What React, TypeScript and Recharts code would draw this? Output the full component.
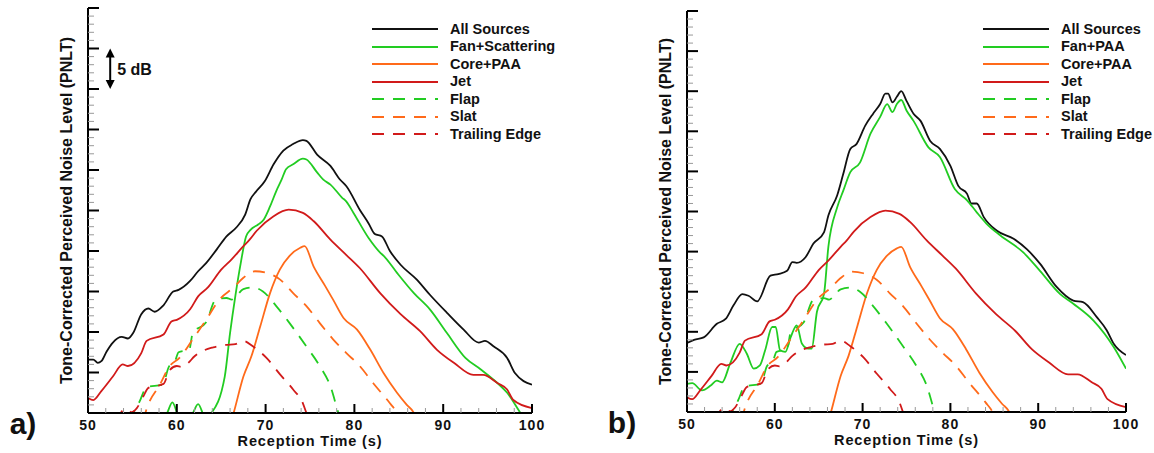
import React from "react";
import { LineChart, Line, XAxis, YAxis, Legend, ReferenceLine } from "recharts";

type Pt = [number, number];

// reception time (s), level above the axis floor (dB)
const allSourcesA: Pt[] = [
  [50, 6.6], [50.6, 6.6], [51.1, 6.2], [51.5, 6.4], [52.1, 7.6], [52.8, 8.7], [53.8, 9.4], [54.5, 9.2],
  [55.1, 9.9], [56, 12.2], [56.8, 12.9], [57.5, 12.5], [58.5, 13.3], [59.6, 15.0], [60.2, 15.2], [61.5, 16.3],
  [62.4, 17.5], [63.3, 18.5], [64.5, 20.2], [65.6, 21.8], [66.7, 22.9], [67.7, 24.5], [68.3, 26.4], [68.9, 27.3],
  [69.9, 28.6], [70.9, 30.7], [72, 32.4], [73.1, 33.2], [74.2, 33.7], [74.6, 33.6], [75.8, 31.9], [77.3, 30.5],
  [78.4, 28.8], [79.1, 28], [80.6, 25.1], [81.6, 23.4], [82.3, 22.1], [83.1, 21.8], [84, 20], [85.2, 18.3],
  [87, 16.5], [88.5, 14.6], [90.4, 12.4], [92.3, 10.3], [94, 8.7], [94.7, 8.9], [95.7, 8.2], [97.2, 6.8],
  [98.1, 4.9], [100, 3.5],
];

const fanScatteringA: Pt[] = [
  [50, -4], [55, -2], [58.8, -0.2], [59.5, 1.3], [60.3, -0.5], [61.6, -0.3], [62.4, 1.1], [63.2, -0.5],
  [63.9, 0], [65.4, 4.5], [66, 9.9], [66.6, 14.5], [67.2, 18.5], [67.8, 21.8], [68.3, 22.6], [69.2, 23.3],
  [69.8, 23.9], [70.5, 25.5], [71.2, 27.4], [71.8, 28.8], [72.3, 30.1], [73.1, 30.7], [74.2, 31.4], [74.6, 31.3],
  [75.8, 29.7], [76.5, 28.8], [77.3, 28.2], [78.6, 26.6], [79.1, 26.1], [79.9, 24.7], [81.6, 21.6], [82.9, 19.8],
  [83.3, 19.4], [84.8, 17.3], [86.7, 14.8], [88.5, 12.8], [90.4, 9.9], [92.5, 6.8], [94.2, 5.4], [96.1, 3.7],
  [97.2, 2.5], [98.7, 0], [100, -2],
];

const allSourcesB: Pt[] = [
  [50, 8.6], [50.8, 9.0], [51.9, 9.3], [53.4, 11], [54.4, 11.6], [55.3, 13.3], [56.3, 14.7], [57, 14.5],
  [58, 13.8], [59.5, 17], [60.4, 17.2], [61.4, 17.6], [62, 18.7], [62.5, 18.6], [63.5, 19.3], [64.4, 21],
  [65.6, 22.4], [66.1, 24.5], [67.1, 27], [67.8, 29.7], [68.6, 32.8], [69.3, 33.4], [70.3, 35.7], [71.2, 37.2],
  [72, 38.4], [72.6, 39.7], [72.9, 39.7], [73.4, 38.6], [73.9, 39.3], [74.4, 40], [75, 38.8], [75.8, 37.2],
  [76.6, 36.3], [77.7, 33.8], [78.8, 32.8], [80, 30.7], [80.9, 28.2], [81.9, 27.2], [82.4, 26], [83, 26],
  [83.8, 24.3], [85.3, 22.6], [87.2, 21.6], [88.7, 20.3], [90.2, 18.5], [92.1, 15.6], [94, 13.9], [95.1, 13.7],
  [96.7, 11.8], [97.8, 10.2], [98.6, 8.5], [100, 7.1],
];

const fanPaaB: Pt[] = [
  [50, 3.5], [50.6, 3.6], [51.7, 2.7], [52.7, 3.3], [53.4, 3.9], [54, 3.7], [54.9, 6], [56, 8.5],
  [56.8, 7.3], [57.6, 5.4], [58.3, 5.8], [58.9, 7.7], [59.7, 10.6], [60.1, 10.6], [60.6, 7.7], [61.2, 7.5],
  [61.8, 9.3], [62.5, 10.8], [63.1, 8.5], [63.8, 7.9], [64.2, 7.9], [64.8, 12.5], [65.6, 14.7], [66.1, 20.6],
  [67.1, 25.5], [67.8, 27.6], [68.6, 29.9], [69.7, 31.1], [70.9, 34.7], [72, 36.8], [72.8, 38.4], [73.4, 37.4],
  [73.9, 38.4], [74.4, 38.9], [75, 37.6], [75.8, 36.3], [77.5, 33], [78.8, 31.8], [80.5, 27.8], [81.9, 26.4],
  [83, 24.9], [84.1, 23.5], [85.7, 22], [88.3, 19.9], [90.2, 17.6], [92.5, 14.7], [94, 13.5], [96.3, 11.4],
  [98.6, 8.1], [100, 5.4],
];

// components that are the same in both panels
const corePaa: Pt[] = [
  [66, -1.5], [66.4, 0], [67.5, 4.5], [68.4, 7], [69.4, 10.7], [70.5, 14.8], [71.6, 17.7], [72.7, 19.4],
  [73.9, 20.4], [74.4, 20.6], [75.4, 18.1], [76.7, 15.7], [77.6, 14], [78.8, 11.7], [80.3, 10.3], [81.8, 7.8],
  [83.3, 4.9], [84.8, 2.5], [85.9, 1], [86.7, 0], [87.2, -1.5],
];

const jet: Pt[] = [
  [50, 1.85], [50.6, 1.6], [51.5, 2.7], [52.8, 4.5], [53.9, 6.0], [54.5, 5.8], [56, 7.4], [56.6, 8.9],
  [58.5, 9.7], [59.4, 11.3], [60, 11.5], [61.5, 12.8], [62.4, 14.4], [63.5, 15.5], [65, 17.7], [66.2, 19],
  [67.5, 20.6], [68.2, 21.4], [69, 22.5], [70.9, 24.3], [72.6, 25.1], [74.2, 24.7], [75.4, 23.7], [77.3, 21.4],
  [79.1, 19.5], [80.6, 17.9], [82.9, 14.8], [85.2, 12.2], [87.4, 10.1], [89.3, 7.8], [91.2, 6.2], [93.4, 4.7],
  [94.5, 4.7], [96.1, 3.7], [97.2, 2.9], [97.9, 1.6], [100, 0.6],
];

const flap: Pt[] = [
  [54.6, -1], [55.1, 0], [55.8, 1.4], [56.6, 3.2], [58.4, 3.5], [59.1, 5.7], [59.8, 6.4], [60.2, 7.5],
  [61.4, 7.8], [61.8, 9.9], [63.3, 11.2], [64.4, 14], [65.6, 14.2], [66.2, 14.0], [66.6, 14.3], [67.5, 15.3],
  [68.6, 15.5], [69.7, 15], [71.2, 13.2], [72.7, 11.1], [74.6, 8.2], [76.1, 5.8], [77.3, 3.3], [78.2, 0],
  [78.5, -1],
];

const slat: Pt[] = [
  [56.2, -1], [56.6, 0.5], [58.1, 3.5], [59.2, 5.8], [60.3, 6.8], [61.8, 9.1], [63.3, 11.5], [64.8, 14],
  [66.4, 15.5], [67.5, 16.7], [68.8, 17.5], [70.1, 17.3], [71.6, 16.5], [73.1, 14.8], [74.6, 13.2], [76.1, 11.1],
  [77.6, 9.1], [79.1, 7.4], [80.6, 5.8], [82.1, 3.7], [84, 1.2], [84.8, 0], [85.2, -1],
];

const trailingEdge: Pt[] = [
  [53.2, -1], [53.9, 0.3], [54.4, 0.5], [54.9, 0.1], [55.5, 0.6], [56.2, 2], [56.8, 3.1], [58.5, 3.6],
  [59.2, 5.3], [60, 5.8], [60.5, 5.7], [61.2, 6.1], [62, 7], [63, 7.7], [64.1, 8.1], [65.5, 8.4],
  [66.6, 8.5], [67.5, 8.9], [68.6, 8.2], [70.1, 6.8], [71.6, 4.8], [73.1, 2.9], [74.2, 1.2], [74.6, 0],
  [75, -1],
];

const namesA = ["All Sources", "Fan+Scattering", "Core+PAA", "Jet", "Flap", "Slat", "Trailing Edge"];
const namesB = ["All Sources", "Fan+PAA", "Core+PAA", "Jet", "Flap", "Slat", "Trailing Edge"];

const xTicks = [50, 52, 54, 56, 58, 60, 62, 64, 66, 68, 70, 72, 74, 76, 78, 80, 82, 84, 86, 88, 90, 92, 94, 96, 98, 100];
const yTicks = Array.from({ length: 51 }, (_, i) => i);

const BLACK = "#111111";
const GREEN = "#22cc22";
const ORANGE = "#ff6a1a";
const RED = "#d11a1a";
const colors = [BLACK, GREEN, ORANGE, RED, GREEN, ORANGE, RED];
const dashes = [undefined, undefined, undefined, undefined, "12 9", "12 9", "12 9"];
const FONT = "'Liberation Sans', Arial, sans-serif";

const toPts = (a: Pt[]) => a.map(([t, v]) => ({ t, v }));

const XTick = (p: any) => {
  const { x, y, payload } = p;
  const major = payload.value % 10 === 0;
  return (
    <g>
      <line x1={x} x2={x} y1={y} y2={y - (major ? 9 : 5)} stroke={major ? "#000" : "#999"} strokeWidth={major ? 2 : 1} />
      {major && (
        <text x={x} y={y + 16.5} textAnchor="middle" fontSize={14} letterSpacing={1} fontWeight="bold" fill="#111">
          {payload.value}
        </text>
      )}
    </g>
  );
};

const YTick = (p: any) => {
  const { x, y, payload } = p;
  const major = payload.value % 5 === 0;
  return (
    <line x1={x} x2={x + (major ? 11 : 6)} y1={y} y2={y} stroke={major ? "#000" : "#999"} strokeWidth={major ? 2 : 1} />
  );
};

const xTitle = (tag: string) => (props: any) => {
  const vb = props.viewBox;
  return (
    <g>
      <text x={vb.x + vb.width / 2} y={vb.y + 32.5} textAnchor="middle" fontSize={14.5} letterSpacing={0.85} fontWeight="bold" fill="#111">
        Reception Time (s)
      </text>
      <text x={vb.x - 65} y={vb.y + 21} textAnchor="middle" fontSize={30} fontWeight="bold" fill="#111">
        {tag}
      </text>
    </g>
  );
};

const yTitle = (props: any) => {
  const vb = props.viewBox;
  const cx = vb.x + vb.width - 16.5;
  const cy = vb.y + vb.height / 2;
  return (
    <text x={cx} y={cy} transform={`rotate(-90, ${cx}, ${cy})`} textAnchor="middle" fontSize={16} fontWeight="bold" fill="#111">
      Tone-Corrected Perceived Noise Level (PNLT)
    </text>
  );
};

const arrowShape = (p: any) => {
  const { x1, y1, y2 } = p;
  const top = Math.min(y1, y2);
  const bot = Math.max(y1, y2);
  return (
    <g>
      <line x1={x1} x2={x1} y1={top + 6} y2={bot - 6} stroke="#000" strokeWidth={2} />
      <polygon points={`${x1},${top} ${x1 - 4.5},${top + 9} ${x1 + 4.5},${top + 9}`} fill="#000" />
      <polygon points={`${x1},${bot} ${x1 - 4.5},${bot - 9} ${x1 + 4.5},${bot - 9}`} fill="#000" />
      <text x={x1 + 7} y={(top + bot) / 2 + 6} fontSize={16} fontWeight="bold" fill="#111">
        5 dB
      </text>
    </g>
  );
};

const legendBox = (names: string[]) => () => (
  <div style={{ fontFamily: FONT }}>
    {names.map((n, i) => (
      <div key={n} style={{ display: "flex", alignItems: "center", height: 17.5, lineHeight: "17.5px" }}>
        <svg width={66} height={4} style={{ display: "block" }}>
          <line x1={0} x2={66} y1={2} y2={2} stroke={colors[i]} strokeWidth={2} strokeDasharray={dashes[i]} />
        </svg>
        <span style={{ marginLeft: 12, fontSize: 14.5, fontWeight: "bold", color: "#111", whiteSpace: "nowrap" }}>{n}</span>
      </div>
    ))}
  </div>
);

type PanelProps = {
  tag: string;
  names: string[];
  all: Pt[];
  fan: Pt[];
  width: number;
  margin: { top: number; right: number; left: number; bottom: number };
  axisHeight: number;
  legendLeft: number;
  showArrow?: boolean;
};

const Panel = ({ tag, names, all, fan, width, margin, axisHeight, legendLeft, showArrow }: PanelProps) => {
  const series = [all, fan, corePaa, jet, flap, slat, trailingEdge];
  return (
    <LineChart width={width} height={453} margin={margin}>
      <XAxis
        type="number"
        dataKey="t"
        domain={[50, 100]}
        ticks={xTicks}
        interval={0}
        height={axisHeight}
        tickSize={0}
        tickMargin={0}
        tickLine={false}
        tick={XTick}
        axisLine={{ stroke: "#000", strokeWidth: 2 }}
        allowDataOverflow
        label={{ content: xTitle(tag) }}
      />
      <YAxis
        type="number"
        dataKey="v"
        domain={[0, 50]}
        ticks={yTicks}
        interval={0}
        width={60}
        tickSize={0}
        tickMargin={0}
        tickLine={false}
        tick={YTick}
        axisLine={{ stroke: "#000", strokeWidth: 2 }}
        allowDataOverflow
        label={{ content: yTitle }}
      />
      {series.map((s, i) => (
        <Line
          key={names[i]}
          data={toPts(s)}
          dataKey="v"
          name={names[i]}
          type="monotone"
          stroke={colors[i]}
          strokeWidth={1.8}
          strokeDasharray={dashes[i]}
          dot={false}
          activeDot={false}
          isAnimationActive={false}
        />
      ))}
      {showArrow && (
        <ReferenceLine segment={[{ x: 52.5, y: 45 }, { x: 52.5, y: 40 }]} shape={arrowShape} />
      )}
      <Legend
        layout="vertical"
        align="center"
        verticalAlign="middle"
        content={legendBox(names)}
        wrapperStyle={{ left: legendLeft, top: 20.5, width: 240, height: 125 }}
      />
    </LineChart>
  );
};

export default function App() {
  return (
    <div style={{ position: "absolute", left: 0, top: 0, width: 1154, height: 453, background: "#fff", fontFamily: FONT }}>
      <div style={{ position: "absolute", left: 0, top: 0 }}>
        <Panel
          tag="a)"
          names={namesA}
          all={allSourcesA}
          fan={fanScatteringA}
          width={580}
          margin={{ top: 8, right: 48, left: 28, bottom: 0 }}
          axisHeight={40}
          legendLeft={372}
          showArrow
        />
      </div>
      <div style={{ position: "absolute", left: 598, top: 0 }}>
        <Panel
          tag="b)"
          names={namesB}
          all={allSourcesB}
          fan={fanPaaB}
          width={556}
          margin={{ top: 11, right: 28, left: 29, bottom: 0 }}
          axisHeight={41}
          legendLeft={385}
        />
      </div>
    </div>
  );
}
